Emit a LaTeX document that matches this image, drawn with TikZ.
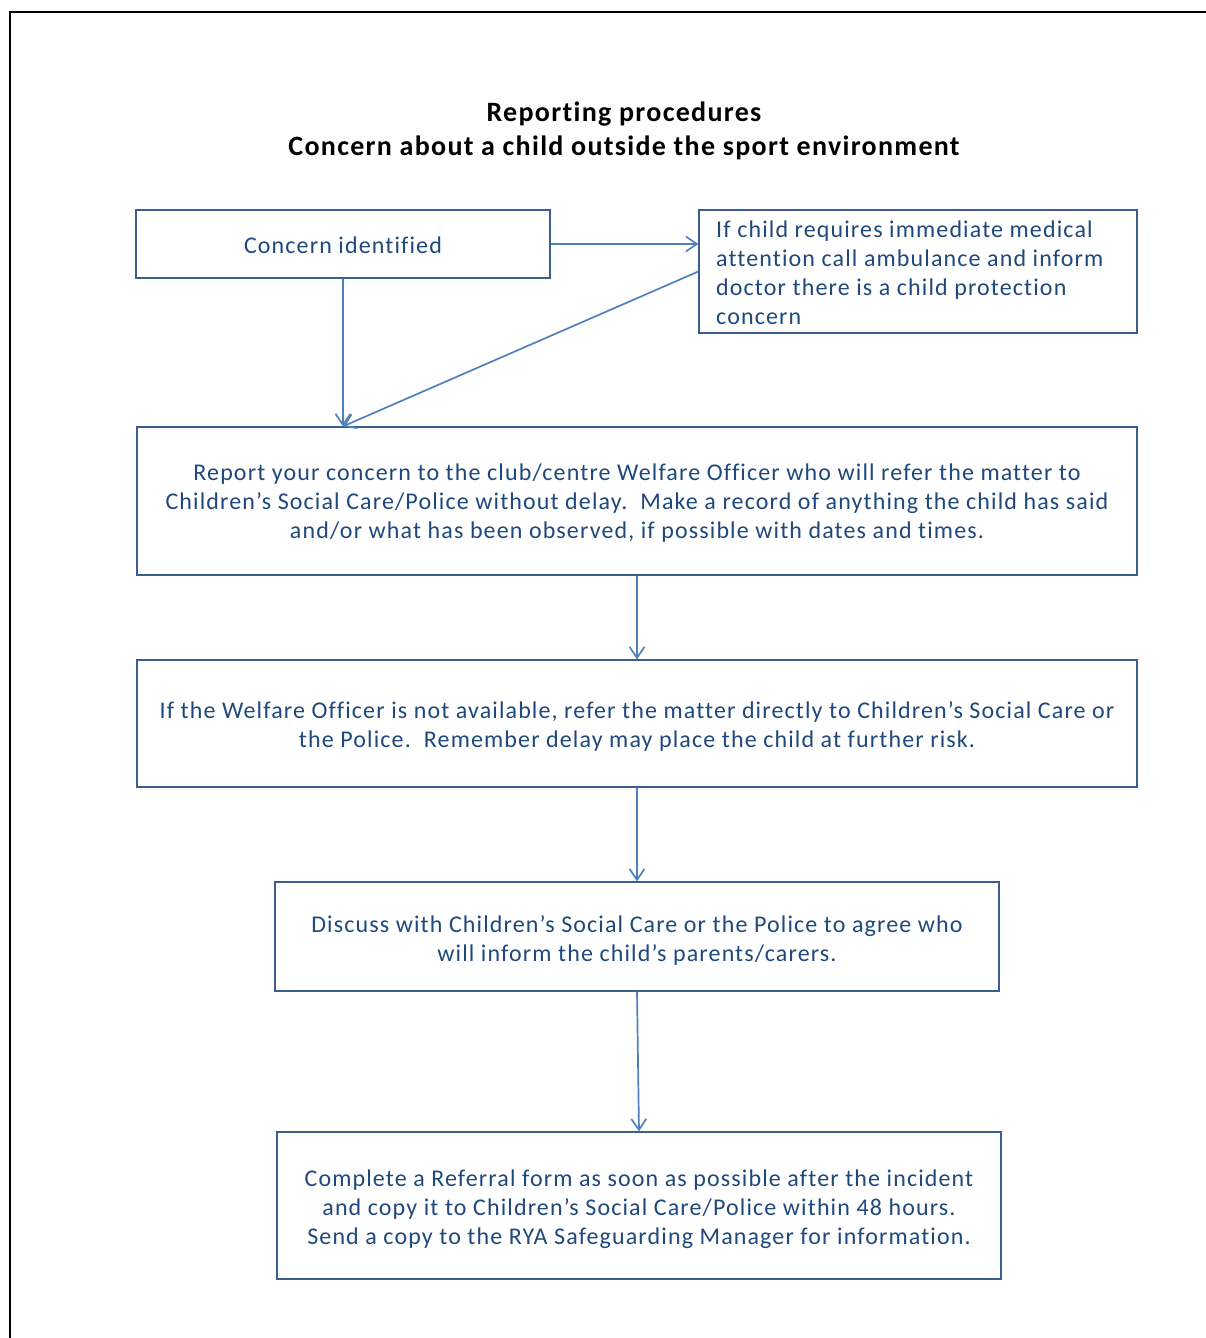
\documentclass[tikz,border=0pt]{standalone}
\usepackage{fontspec}
\setmainfont{Carlito}
\newfontfamily\bodyfont[LetterSpace=4.7,Ligatures=NoCommon]{Carlito}
\usetikzlibrary{arrows.meta}
\definecolor{txtblue}{HTML}{1F497D}
\definecolor{boxblue}{HTML}{3A5F8E}
\definecolor{arrblue}{HTML}{4F81BD}
\tikzset{
  box/.style={draw=boxblue, line width=1.3pt, rectangle, inner sep=0pt},
  btext/.style={text=txtblue, inner sep=0pt, font=\bodyfont\fontsize{24}{29}\selectfont, align=center},
  conn/.style={draw=arrblue, line width=1.7pt, -{Straight Barb[length=11pt,width=15pt,line width=1.7pt]}},
  titletext/.style={font=\bodyfont\bfseries\fontsize{28}{34}\selectfont, align=center, text=black}
}
\begin{document}
\begin{tikzpicture}[x=1pt,y=-1pt]
\useasboundingbox (0,0) rectangle (1206,1338);
\fill[white] (0,0) rectangle (1206,1338);
\draw[black, line width=2pt] (10,1360) -- (10,12) -- (1230,12);

\node[titletext] (title) at (624,131) {Reporting procedures\\Concern about a child outside the sport environment};

\node[box, minimum width=414pt, minimum height=68pt] (ci) at (343,244) {};
\node[btext] (citxt) at (343,245) {Concern identified};
\node[box, minimum width=438pt, minimum height=123pt] (med) at (918,271.5) {};
\node[btext, align=left, anchor=west] (medtxt) at (716,272.5)
  {If child requires immediate medical\\attention call ambulance and inform\\doctor there is a child protection\\concern};
\node[box, minimum width=1000pt, minimum height=148pt] (rep) at (637,501) {};
\node[btext] (reptxt) at (637,503)
  {Report your concern to the club/centre Welfare Officer who will refer the matter to\\Children’s Social Care/Police without delay.\ \ Make a record of anything the child has said\\and/or what has been observed, if possible with dates and times.};
\node[box, minimum width=1000pt, minimum height=127pt] (wel) at (637,723.5) {};
\node[btext] (weltxt) at (637,726)
  {If the Welfare Officer is not available, refer the matter directly to Children’s Social Care or\\the Police.\ \ Remember delay may place the child at further risk.};
\node[box, minimum width=724pt, minimum height=109pt] (dis) at (637,936.5) {};
\node[btext] (distxt) at (637,940)
  {Discuss with Children’s Social Care or the Police to agree who\\will inform the child’s parents/carers.};
\node[box, minimum width=724pt, minimum height=147pt] (com) at (639,1205.5) {};
\node[btext] (comtxt) at (639,1209)
  {Complete a Referral form as soon as possible after the incident\\and copy it to Children’s Social Care/Police within 48 hours.\\Send a copy to the RYA Safeguarding Manager for information.};

\coordinate (ciin) at (ci.south |- rep.north);
\draw[conn] (ci.east) -- (med.west |- ci.east);
\draw[conn] (ci.south) -- (ciin);
\draw[conn] (med.west) -- (ciin);
\draw[conn] (rep.south) -- (wel.north);
\draw[conn] (wel.south) -- (dis.north);
\draw[conn] (dis.south) -- (com.north);
\end{tikzpicture}
\end{document}
